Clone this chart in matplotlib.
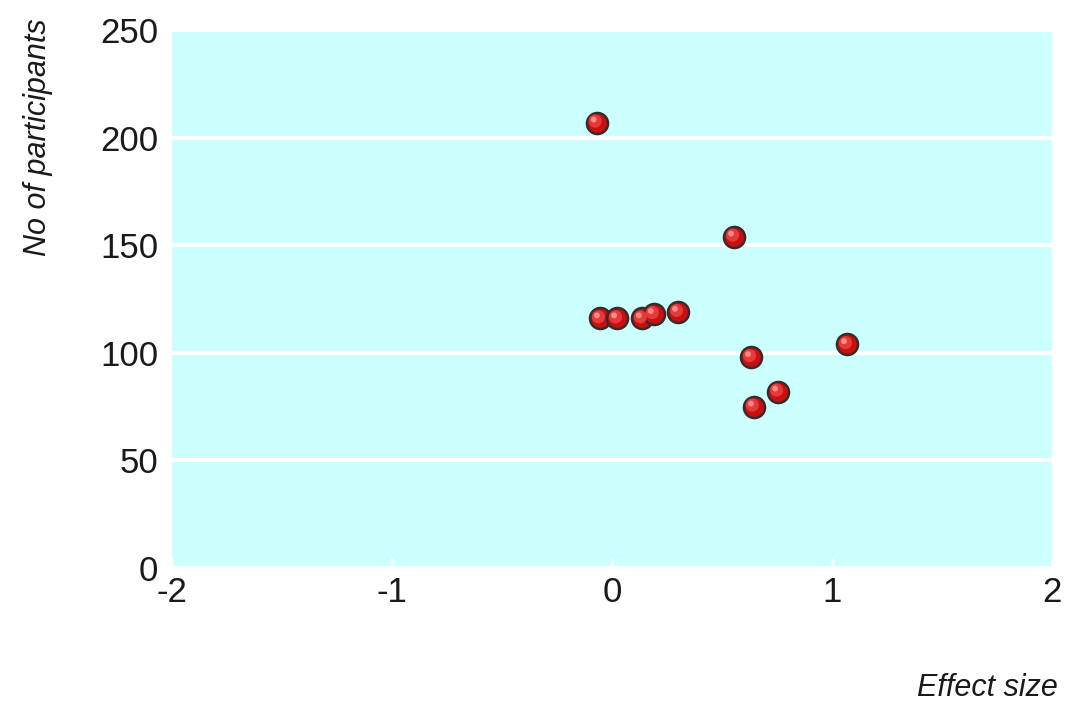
import matplotlib
matplotlib.use("Agg")
import matplotlib.pyplot as plt
from matplotlib.transforms import offset_copy

effect_size = [-0.07, 0.555, -0.055, 0.023, 0.136, 0.19, 0.30, 0.632, 0.645, 0.755, 1.068]
participants = [207, 154, 116, 116, 116, 118, 119, 98, 75, 82, 104]
x_ticks = [-2, -1, 0, 1, 2]
y_ticks = [0, 50, 100, 150, 200, 250]

font = ['Liberation Sans Narrow', 'Liberation Sans', 'DejaVu Sans']
plt.rcParams['font.family'] = font

fig = plt.figure(figsize=(10.66, 7.04), dpi=100)
ax = fig.add_axes([172/1066, 1-568/704, (1052-172)/1066, (568-30)/704])
ax.set_facecolor('#ccffff')
ax.set_xlim(-2, 2)
ax.set_ylim(0, 250)
ax.set_xticks(x_ticks)
ax.set_yticks(y_ticks)
ax.set_xticklabels([str(v) for v in x_ticks])
ax.set_yticklabels([str(v) for v in y_ticks])
for s in ax.spines.values():
    s.set_visible(False)
ax.grid(axis='y', color='white', linewidth=3)
ax.set_axisbelow(True)
ax.tick_params(axis='x', direction='in', color='white', length=7, width=2,
               labelsize=25, labelcolor='#1a1a1a', pad=6)
ax.tick_params(axis='y', length=0, labelsize=25, labelcolor='#1a1a1a', pad=10)

ax.scatter(effect_size, participants, s=230, c='#c81010', edgecolors='#3a2a2a',
           linewidths=1.8, zorder=3)
ax.scatter(effect_size, participants, s=90, c='#e63a3a', edgecolors='none',
           zorder=4, transform=offset_copy(ax.transData, fig, x=-1.5, y=1.5, units='dots'))
ax.scatter(effect_size, participants, s=18, c='#ff8888', edgecolors='none',
           zorder=5, transform=offset_copy(ax.transData, fig, x=-3, y=3, units='dots'))

fig.text(38/1066, 1-18/704, 'No of participants', rotation=90, ha='center', va='top',
         fontsize=22, style='italic', color='#1a1a1a')
fig.text(1058/1066, 1-688/704, 'Effect size', ha='right', va='center',
         fontsize=22, style='italic', color='#1a1a1a')

fig.savefig('out.png', dpi=100)
